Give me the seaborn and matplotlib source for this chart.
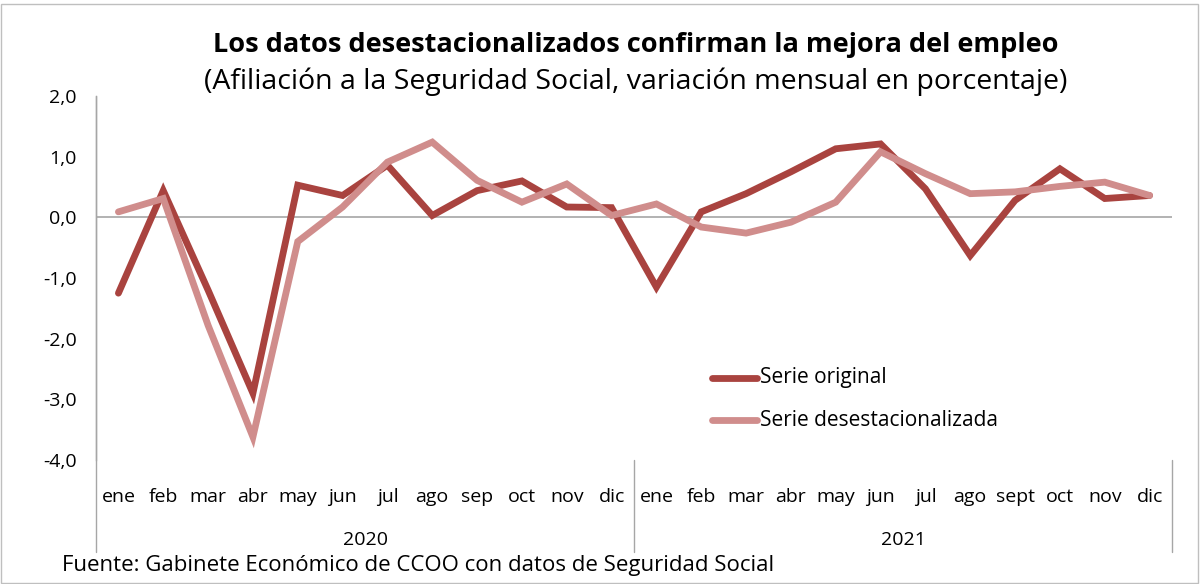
import matplotlib
matplotlib.use("Agg")
import matplotlib.pyplot as plt
import matplotlib.patches as mpatches
from matplotlib.lines import Line2D
import seaborn as sns
import pandas as pd
import numpy as np

months = ["ene", "feb", "mar", "abr", "may", "jun", "jul", "ago", "sep", "oct", "nov", "dic",
          "ene", "feb", "mar", "abr", "may", "jun", "jul", "ago", "sept", "oct", "nov", "dic"]
years = ["2020", "2021"]
serie_original = [-1.25, 0.44, -1.2, -2.9, 0.53, 0.36, 0.86, 0.03, 0.44, 0.60, 0.17, 0.16,
                  -1.15, 0.09, 0.39, 0.75, 1.13, 1.21, 0.47, -0.63, 0.28, 0.80, 0.31, 0.36]
serie_desest = [0.09, 0.31, -1.78, -3.62, -0.40, 0.17, 0.91, 1.24, 0.61, 0.25, 0.55, 0.03,
                0.22, -0.16, -0.26, -0.08, 0.25, 1.08, 0.72, 0.39, 0.42, 0.51, 0.58, 0.36]
series_names = ["Serie original", "Serie desestacionalizada"]
colors = ["#A9433F", "#D08D8C"]

sns.set_theme(style="white")
plt.rcParams["font.family"] = ["Open Sans", "DejaVu Sans"]
plt.rcParams["text.color"] = "black"
plt.rcParams["xtick.color"] = "black"
plt.rcParams["ytick.color"] = "black"

W, H = 1201, 584
fig = plt.figure(figsize=(W / 100, H / 100), dpi=100)
ax = fig.add_axes([96 / W, 1 - 460 / H, (1172 - 96) / W, (460 - 96) / H])

idx = np.arange(len(months))
df = pd.DataFrame({
    "i": np.concatenate([idx, idx]),
    "v": serie_original + serie_desest,
    "s": [series_names[0]] * len(idx) + [series_names[1]] * len(idx),
})
sns.lineplot(data=df, x="i", y="v", hue="s", palette=colors, linewidth=4.9,
             ax=ax, legend=False, solid_capstyle="round", solid_joinstyle="miter")

ax.set_xlim(-0.5, len(months) - 0.5)
ax.set_ylim(-4, 2)
ax.set_yticks(np.arange(-4, 2.01, 1))
ax.set_yticklabels([f"{t:.1f}".replace(".", ",") for t in np.arange(-4, 2.01, 1)], fontsize=14)
ax.set_xticks(idx)
ax.set_xticklabels(months, fontsize=14)
ax.tick_params(axis="x", length=0, pad=20, colors="black")
ax.tick_params(axis="y", length=0, pad=14, colors="black")
ax.set_xlabel("")
ax.set_ylabel("")
for sp in ["top", "right", "bottom"]:
    ax.spines[sp].set_visible(False)
ax.spines["left"].set_color("#A6A6A6")
ax.spines["left"].set_linewidth(1.0)
ax.axhline(0, color="#A6A6A6", linewidth=1.2, zorder=0)

# category separators
for xp, y0 in [(96, 96), (634, 460), (1172, 460)]:
    fig.add_artist(Line2D([xp / W, xp / W], [1 - y0 / H, 1 - 552 / H], color="#A6A6A6", linewidth=1.0))
for k, yr in enumerate(years):
    xc = (96 + 538 * k + 269) / W
    fig.text(xc, 1 - 540 / H, yr, ha="center", va="center", fontsize=14, color="black")

# legend
for k, name in enumerate(series_names):
    yy = 1 - (378 + 42 * k) / H
    fig.add_artist(Line2D([712 / W, 757 / W], [yy, yy], color=colors[k], linewidth=4.9, solid_capstyle="round"))
    fig.text(760 / W, yy, name, ha="left", va="center", fontsize=15, color="black")

fig.text(636 / W, 1 - 45 / H, "Los datos desestacionalizados confirman la mejora del empleo",
         ha="center", va="center", fontsize=19.5, fontweight="bold", color="black")
fig.text(636 / W, 1 - 82 / H, "(Afiliación a la Seguridad Social, variación mensual en porcentaje)",
         ha="center", va="center", fontsize=20.5, color="black")
fig.text(62 / W, 1 - 566 / H, "Fuente: Gabinete Económico de CCOO con datos de Seguridad Social",
         ha="left", va="center", fontsize=16, color="black")

fig.add_artist(mpatches.Rectangle((1 / W, 1 / H), (W - 4) / W, (H - 5) / H, transform=fig.transFigure,
                                  fill=False, edgecolor="#BFBFBF", linewidth=1.0))

fig.savefig("out.png", dpi=100)
